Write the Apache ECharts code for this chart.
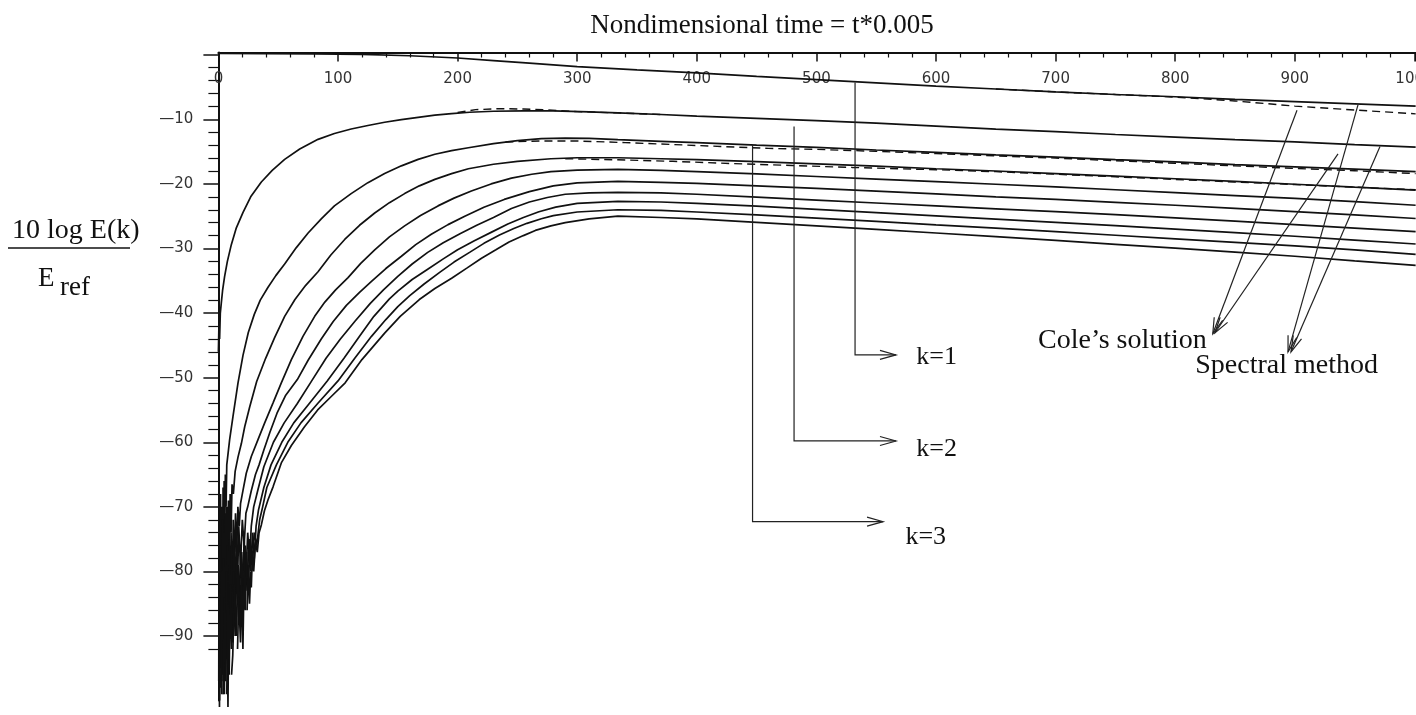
<!DOCTYPE html>
<html>
<head>
<meta charset="utf-8">
<script src="https://cdn.jsdelivr.net/npm/echarts/dist/echarts.min.js"></script>
<style>
  html, body { margin: 0; padding: 0; background: #fff; }
  #chart { width: 1416px; height: 715px; }
</style>
</head>
<body>
<div id="chart"></div>
<script>
// Modal energy 10 log(E(k)/Eref) versus nondimensional time (units of t*0.005).
// Each array holds [time, dB] pairs; the spectral-method run for modes k = 1..10.
const spectralK1 = [[0,0.2],[80,0.15],[120,0.05],[160,-0.15],[200,-0.5],[230,-0.9],[260,-1.3],[300,-1.85],[350,-2.35],[400,-2.8],[450,-3.35],[500,-3.85],[550,-4.35],[600,-4.85],[650,-5.3],[700,-5.75],[750,-6.15],[800,-6.5],[850,-6.9],[900,-7.25],[950,-7.6],[1001,-7.95]];
const spectralK2 = [[0,-46],[0.5,-41.5],[1,-44],[1.6,-40],[2.4,-38.5],[3.5,-36.5],[5.2,-34.3],[7.5,-32],[10.8,-29.4],[15,-26.8],[20.6,-24.4],[27,-22],[35.9,-19.7],[45,-17.9],[55.4,-16.2],[68,-14.6],[83.3,-13.1],[97,-12.2],[111,-11.5],[125,-10.95],[139,-10.45],[153,-10.05],[167,-9.7],[181,-9.35],[195,-9.1],[210,-8.9],[230,-8.75],[255,-8.7],[280,-8.7],[310,-8.85],[334,-9.0],[370,-9.25],[400,-9.5],[450,-9.85],[500,-10.2],[550,-10.6],[600,-11.05],[650,-11.5],[700,-11.9],[750,-12.35],[800,-12.75],[850,-13.15],[900,-13.5],[950,-13.9],[1001,-14.3]];
const spectralK3 = [[0.3,-97],[0.6,-70],[0.9,-101],[1.2,-74],[1.5,-93],[1.8,-68],[2.1,-88],[2.4,-72],[2.8,-99],[3.1,-70],[3.5,-84],[3.9,-67],[4.3,-80],[4.8,-66],[5.3,-76],[5.8,-65],[6.4,-70],[7,-63.5],[9.4,-59.6],[12.2,-56],[16.4,-50.8],[20.6,-46.5],[25,-43],[30,-40.2],[35,-38],[41.5,-36],[48,-34.2],[55.4,-32.4],[65,-29.9],[75,-27.6],[86,-25.4],[97,-23.4],[111,-21.5],[125,-19.8],[139,-18.4],[153,-17.2],[167,-16.2],[181,-15.4],[195,-14.85],[209,-14.4],[230,-13.75],[250,-13.3],[270,-13.0],[290,-12.9],[310,-12.95],[334,-13.15],[370,-13.4],[400,-13.6],[450,-14.0],[500,-14.35],[550,-14.75],[600,-15.1],[650,-15.5],[700,-15.85],[750,-16.25],[800,-16.6],[850,-17.0],[900,-17.35],[950,-17.7],[1001,-18.1]];
const spectralK4 = [[1,-100],[1.5,-76],[2,-95],[2.5,-80],[3,-92],[3.5,-72],[4,-97],[4.6,-74],[5.2,-88],[5.8,-71],[6.4,-84],[7,-70],[7.7,-80],[8.4,-69],[9.1,-78],[9.8,-68],[10.6,-74],[11.4,-66.5],[12.5,-68],[14,-64.5],[16.4,-62.3],[19.2,-60.2],[22,-57.6],[26.2,-54.5],[32,-50.6],[39.5,-47],[47,-43.8],[55.4,-40.5],[64,-37.9],[73,-35.7],[83.3,-33.6],[94,-31],[105.6,-28.6],[118,-26.4],[130.7,-24.5],[143,-22.9],[155.7,-21.5],[168,-20.3],[181,-19.3],[195,-18.4],[209,-17.65],[230,-16.95],[250,-16.5],[278,-16.1],[300,-15.95],[334,-15.95],[370,-16.1],[400,-16.25],[450,-16.55],[500,-16.9],[550,-17.25],[600,-17.65],[650,-18.0],[700,-18.4],[750,-18.8],[800,-19.2],[850,-19.6],[900,-20.05],[950,-20.5],[1001,-20.95]];
const spectralK5 = [[2,-98],[2.8,-80],[3.5,-96],[4.3,-78],[5,-99],[5.8,-79],[6.6,-90],[7.4,-76],[8.2,-88],[9,-75],[9.8,-90],[10.6,-74],[11.5,-84],[12.4,-72],[13.3,-80],[14.3,-71],[15.3,-77],[16.3,-70],[17.4,-73],[18.5,-69.5],[20.6,-67.4],[23.3,-64.8],[27.5,-62.2],[33.1,-59.6],[38.7,-57],[45.7,-53.9],[52.6,-50.8],[61,-47.2],[70.7,-43.6],[80.5,-40.5],[89,-38.3],[98,-36.4],[108.4,-34.5],[119,-32.3],[130.7,-30.2],[143,-28.2],[155.7,-26.5],[169,-24.9],[183.6,-23.4],[197,-22.2],[211.5,-21.1],[228,-20.0],[245,-19.1],[262,-18.5],[278,-18.1],[300,-17.85],[334,-17.75],[370,-17.9],[400,-18.1],[450,-18.45],[500,-18.85],[550,-19.25],[600,-19.65],[650,-20.05],[700,-20.45],[750,-20.9],[800,-21.35],[850,-21.8],[900,-22.25],[950,-22.75],[1001,-23.3]];
const spectralK6 = [[4,-99],[5,-84],[6,-97],[7,-80],[8,-101],[9,-79],[10,-88],[11,-76],[12,-91],[13,-75],[14,-86],[15,-74],[16,-82],[17,-73],[18.5,-79],[20,-72],[21.5,-76],[23,-71],[24.5,-70],[27.5,-67.5],[31,-65],[34,-63.5],[38,-61.2],[43,-58.5],[49,-55.5],[56,-52.8],[66,-50.3],[75,-47.3],[86,-44],[96,-41.3],[107,-38.8],[118,-36.8],[128,-35.1],[140,-33.1],[153,-31.2],[165,-29.4],[178,-27.8],[192,-26.3],[206,-25],[222,-23.6],[239,-22.4],[260,-21.2],[280,-20.3],[300,-19.85],[334,-19.6],[370,-19.75],[400,-19.9],[450,-20.3],[500,-20.7],[550,-21.1],[600,-21.55],[650,-22.0],[700,-22.4],[750,-22.85],[800,-23.3],[850,-23.8],[900,-24.3],[950,-24.8],[1001,-25.35]];
const spectralK7 = [[7,-99],[8,-84],[9,-96],[10,-82],[11,-92],[12.5,-80],[14,-90],[15.5,-78],[17,-87],[18.5,-77],[20,-84],[21.5,-75],[23,-81],[24.5,-74],[26,-78],[27.5,-73],[29.5,-70],[33,-67.4],[38,-63.8],[46,-60],[55,-57],[66,-54],[78,-50.5],[90,-47],[102,-44],[114,-41.3],[127,-38.5],[138,-36.4],[150,-34.3],[162,-32.4],[175,-30.6],[188,-29.1],[202,-27.7],[216,-26.4],[230,-25.2],[245,-23.8],[260,-22.8],[275,-22.1],[290,-21.6],[310,-21.4],[334,-21.3],[370,-21.4],[400,-21.6],[450,-22.05],[500,-22.5],[550,-22.95],[600,-23.4],[650,-23.85],[700,-24.3],[750,-24.75],[800,-25.25],[850,-25.75],[900,-26.3],[950,-26.85],[1001,-27.4]];
const spectralK8 = [[11,-96],[12,-93],[13.5,-82],[15,-90],[16.5,-79],[18,-88],[19.5,-77],[21,-85],[22.5,-76],[24,-83],[25.5,-75],[27,-80],[28.5,-74],[30,-78],[31.5,-73],[33.5,-70.5],[38,-67],[44,-63.5],[53,-60],[63,-57],[76,-54],[91,-50.5],[105,-47],[118,-43.6],[130,-40.5],[143,-37.8],[150,-36.6],[162,-34.8],[175,-33.2],[188,-31.6],[200,-30.2],[214,-28.8],[228,-27.5],[242,-26.2],[255,-25.2],[268,-24.3],[282,-23.6],[300,-23.0],[334,-22.7],[370,-22.8],[400,-23.0],[450,-23.45],[500,-23.95],[550,-24.45],[600,-24.95],[650,-25.45],[700,-25.95],[750,-26.45],[800,-27.0],[850,-27.55],[900,-28.1],[950,-28.7],[1001,-29.3]];
const spectralK9 = [[16,-92],[17,-84],[18.5,-91],[19.5,-81],[20.5,-92],[21.5,-80],[22.5,-86],[23.5,-77],[25,-83],[26.5,-75],[28,-79],[30,-74],[32,-76],[34.5,-72],[37,-70],[40.5,-67],[48.5,-63.5],[58,-60],[69,-57],[83,-54],[100,-50.5],[114,-47],[128,-43.6],[140,-41],[150,-39],[160,-37.3],[172,-35.5],[185,-33.7],[197,-32.1],[210,-30.6],[222,-29.2],[235,-27.9],[247,-26.9],[258,-26.1],[270,-25.4],[280,-24.9],[300,-24.35],[334,-24.0],[370,-24.1],[400,-24.35],[450,-24.8],[500,-25.3],[550,-25.8],[600,-26.35],[650,-26.85],[700,-27.4],[750,-27.95],[800,-28.5],[850,-29.05],[900,-29.6],[950,-30.2],[1001,-30.9]];
const spectralK10 = [[24,-86],[25,-79],[26,-85],[27,-80],[27.5,-82.5],[28.5,-77],[29.5,-80],[31,-75.5],[32.5,-77],[34,-74],[35.9,-72.8],[38.5,-70.6],[41.5,-68.9],[45.7,-66.9],[52.6,-63.2],[61,-60.5],[72,-57.6],[83,-55],[95,-52.8],[106,-50.8],[120,-47.2],[139,-43.1],[152,-40.5],[168,-37.9],[181,-36.2],[195,-34.6],[208,-33.0],[220,-31.5],[232,-30.2],[243,-29.0],[255,-28.0],[265,-27.2],[278,-26.5],[290,-26.0],[310,-25.4],[334,-25.0],[370,-25.2],[400,-25.4],[450,-25.95],[500,-26.5],[550,-27.05],[600,-27.6],[650,-28.15],[700,-28.75],[750,-29.35],[800,-29.95],[850,-30.55],[900,-31.2],[950,-31.9],[1001,-32.6]];

// Cole's analytic solution for the lowest modes (dashed), where it separates from the numerical run
const coleK1 = [[650,-5.3],[700,-5.75],[750,-6.15],[800,-6.55],[850,-7.15],[900,-7.95],[950,-8.55],[1001,-9.15]];
const coleK2 = [[200,-8.95],[215,-8.5],[235,-8.35],[255,-8.4],[275,-8.55],[300,-8.8],[334,-9.0],[370,-9.25]];
const coleK3 = [[240,-13.5],[270,-13.35],[300,-13.35],[340,-13.6],[380,-13.9],[420,-14.2],[460,-14.5],[500,-14.65],[550,-14.95],[600,-15.3],[650,-15.65],[700,-16.0],[750,-16.4],[800,-16.8],[850,-17.2],[900,-17.6],[950,-17.95],[1001,-18.4]];
const coleK4 = [[290,-16.1],[330,-16.25],[380,-16.5],[430,-16.85],[480,-17.15],[530,-17.45],[600,-17.8],[650,-18.1],[700,-18.5],[750,-18.9],[800,-19.3],[850,-19.7],[900,-20.1],[950,-20.5],[1001,-20.9]];

// Axis ticks
const xLabelValues = [0,100,200,300,400,500,600,700,800,900,1000];
const yLabelValues = [-10,-20,-30,-40,-50,-60,-70,-80,-90];
const yMajorTicks = [0,-10,-20,-30,-40,-50,-60,-70,-80,-90];
const yMinorTicks = [-2,-4,-6,-8,-12,-14,-16,-18,-22,-24,-26,-28,-32,-34,-36,-38,-42,-44,-46,-48,-52,-54,-56,-58,-62,-64,-66,-68,-72,-74,-76,-78,-82,-84,-86,-88,-92];

// Callouts, in data units (time, dB): leader paths ending in an open arrow
const leaderPaths = [
  [[532.3,-4.3],[532.3,-46.48],[566.5,-46.48]],
  [[481.3,-11.11],[481.3,-59.8],[566.5,-59.8]],
  [[446.6,-13.97],[446.6,-72.29],[555.7,-72.29]],
  [[901.8,-8.6],[831.4,-43.2]],
  [[936.1,-15.36],[833.1,-43.08]],
  [[952.8,-7.75],[894.3,-46.0]],
  [[971.2,-14.2],[896.8,-46.0]]
];
const calloutTexts = [
  { text: 'k=1', at: [583.5,-46.87], size: 26 },
  { text: 'k=2', at: [583.5,-61.04], size: 26 },
  { text: 'k=3', at: [574.4,-74.66], size: 26 },
  { text: 'Cole\u2019s solution', at: [685.3,-44.24], size: 28 },
  { text: 'Spectral method', at: [816.7,-48.1], size: 28 }
];

const SERIF = '"Liberation Serif", "Times New Roman", serif';
const INK = '#111';

function solid(name, data) {
  return {
    name, type: 'line', data, showSymbol: false, symbol: 'none', clip: false,
    silent: true, z: 3, lineStyle: { color: INK, width: 1.7 }
  };
}
function dashed(name, data) {
  return {
    name, type: 'line', data, showSymbol: false, symbol: 'none', clip: false,
    silent: true, z: 2, lineStyle: { color: INK, width: 1.4, type: [8, 5] }
  };
}

const series = [
  solid('k=1', spectralK1), solid('k=2', spectralK2), solid('k=3', spectralK3),
  solid('k=4', spectralK4), solid('k=5', spectralK5), solid('k=6', spectralK6),
  solid('k=7', spectralK7), solid('k=8', spectralK8), solid('k=9', spectralK9),
  solid('k=10', spectralK10),
  dashed('Cole k=1', coleK1), dashed('Cole k=2', coleK2),
  dashed('Cole k=3', coleK3), dashed('Cole k=4', coleK4),
  {
    type: 'custom', coordinateSystem: 'cartesian2d', clip: false, silent: true, z: 6,
    data: leaderPaths.map(p => p[0]),
    renderItem(params, api) {
      const pts = leaderPaths[params.dataIndex].map(p => api.coord(p));
      const n = pts.length, tip = pts[n - 1], prev = pts[n - 2];
      let dx = tip[0] - prev[0], dy = tip[1] - prev[1];
      const L = Math.hypot(dx, dy) || 1; dx /= L; dy /= L;
      const len = 16, w = 4.5;
      const head = [
        [tip[0] - len * dx - w * dy, tip[1] - len * dy + w * dx],
        tip,
        [tip[0] - len * dx + w * dy, tip[1] - len * dy - w * dx]
      ];
      const st = { stroke: '#222', lineWidth: 1.2, fill: 'none' };
      return {
        type: 'group',
        children: [
          { type: 'polyline', shape: { points: pts }, style: st },
          { type: 'polyline', shape: { points: head }, style: st }
        ]
      };
    }
  },
  {
    type: 'custom', coordinateSystem: 'cartesian2d', clip: false, silent: true, z: 6,
    data: calloutTexts.map(t => t.at),
    renderItem(params, api) {
      const t = calloutTexts[params.dataIndex];
      const p = api.coord(t.at);
      return {
        type: 'text', x: p[0], y: p[1],
        style: {
          text: t.text, fill: INK, font: t.size + 'px ' + SERIF,
          align: 'left', verticalAlign: 'middle',
          textAlign: 'left', textVerticalAlign: 'middle'
        }
      };
    }
  }
];

const chart = echarts.init(document.getElementById('chart'), null, { renderer: 'canvas' });
chart.setOption({
  animation: false,
  backgroundColor: '#fff',
  grid: { left: 218.4, right: 0, top: 52.5, bottom: 14.4, containLabel: false, outerBoundsMode: 'none' },
  xAxis: {
    type: 'value', position: 'top', min: 0, max: 1001.3, interval: 100,
    axisLine: { show: true, onZero: false, lineStyle: { color: INK, width: 2 } },
    axisTick: { show: true, inside: true, length: 9, lineStyle: { color: INK, width: 1.5 } },
    minorTick: { show: true, splitNumber: 5, length: 5, lineStyle: { color: INK, width: 1.2 } },
    axisLabel: {
      inside: true, margin: 19, color: '#333', fontFamily: 'DejaVu Sans', fontSize: 15,
      customValues: xLabelValues,
      formatter: v => (xLabelValues.indexOf(v) >= 0 ? String(v) : '')
    },
    splitLine: { show: false }
  },
  yAxis: [
    {
      type: 'value', min: -100, max: 0.35, interval: 10,
      axisLine: { show: true, onZero: false, lineStyle: { color: INK, width: 2 } },
      axisTick: { show: true, length: 15, customValues: yMajorTicks, lineStyle: { color: INK, width: 1.5 } },
      axisLabel: {
        customValues: yLabelValues, margin: 25, color: '#333', fontFamily: 'DejaVu Sans', fontSize: 15,
        formatter: v => '\u2014' + Math.abs(v)
      },
      splitLine: { show: false }
    },
    {
      type: 'value', min: -100, max: 0.35, interval: 10, position: 'left',
      axisLine: { show: false }, axisLabel: { show: false }, splitLine: { show: false },
      axisTick: { show: true, length: 10, customValues: yMinorTicks, lineStyle: { color: INK, width: 1.2 } }
    }
  ],
  graphic: [
    {
      type: 'text', x: 762, y: 25.8, silent: true,
      style: { text: 'Nondimensional time = t*0.005', font: '27px ' + SERIF, fill: INK,
               align: 'center', verticalAlign: 'middle', textAlign: 'center', textVerticalAlign: 'middle' }
    },
    {
      type: 'text', x: 12, y: 230.8, silent: true,
      style: { text: '10 log E(k)', font: '28px ' + SERIF, fill: INK,
               align: 'left', verticalAlign: 'middle', textAlign: 'left', textVerticalAlign: 'middle' }
    },
    {
      type: 'line', silent: true,
      shape: { x1: 8, y1: 248, x2: 130, y2: 248 },
      style: { stroke: INK, lineWidth: 1.3 }
    },
    {
      type: 'text', x: 38, y: 278.8, silent: true,
      style: { text: 'E', font: '27px ' + SERIF, fill: INK,
               align: 'left', verticalAlign: 'middle', textAlign: 'left', textVerticalAlign: 'middle' }
    },
    {
      type: 'text', x: 60, y: 287.8, silent: true,
      style: { text: 'ref', font: '27px ' + SERIF, fill: INK,
               align: 'left', verticalAlign: 'middle', textAlign: 'left', textVerticalAlign: 'middle' }
    }
  ],
  series
});
</script>
</body>
</html>
